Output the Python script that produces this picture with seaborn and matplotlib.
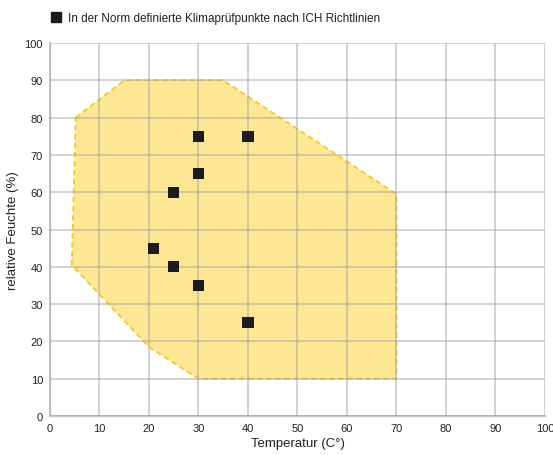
import pandas as pd
import seaborn as sns
import matplotlib.pyplot as plt
from matplotlib.lines import Line2D

# climate test points (ICH)
temp = [30, 40, 30, 25, 21, 25, 30, 40]
humidity = [75, 75, 65, 60, 45, 40, 35, 25]

# operating range polygon
area_temp = [5.2, 15, 35, 70, 70, 30, 20, 4.4]
area_hum = [80, 90, 90, 59.5, 10, 10, 18.5, 40.5]

ticks = list(range(0, 101, 10))

df = pd.DataFrame({'Temperatur': temp, 'Feuchte': humidity})

sns.set_theme(style="white")
plt.rcParams['font.family'] = ['Liberation Sans', 'DejaVu Sans']

fig = plt.figure(figsize=(5.53, 4.56), dpi=100)
ax = fig.add_axes([0.0904, 0.0855, 0.895, 0.818])

ax.fill(area_temp, area_hum, facecolor='#fde793', edgecolor='#f7c81e',
        linestyle=(0, (3, 2)), linewidth=1.3, zorder=1)

sns.scatterplot(data=df, x='Temperatur', y='Feuchte', marker='s', s=64,
                color='#1b1a1c', edgecolor='none', ax=ax, zorder=3)

ax.set_xlim(0, 100)
ax.set_ylim(0, 100)
ax.set_xticks(ticks)
ax.set_yticks(ticks)
ax.grid(True, color='#a0a0a0', linewidth=1.1, alpha=0.6, zorder=2)
ax.set_axisbelow(False)
for s in ['top', 'right']:
    ax.spines[s].set_visible(False)
for s in ['left', 'bottom']:
    ax.spines[s].set_color('#c4c4c4')
    ax.spines[s].set_linewidth(1.5)
ax.tick_params(axis='both', length=3, color='#c4c4c4', labelsize=8,
               labelcolor='#222222', pad=2)

ax.set_xlabel('Temperatur (C°)', fontsize=9.5, color='#222222', labelpad=3)
ax.set_ylabel('relative Feuchte (%)', fontsize=9.5, color='#222222', labelpad=4)

handle = Line2D([], [], marker='s', linestyle='none', color='#1b1a1c',
                markersize=7)
fig.legend([handle], ['In der Norm definierte Klimaprüfpunkte nach ICH Richtlinien'],
           loc='upper left', bbox_to_anchor=(0.072, 0.995), frameon=False,
           fontsize=8.5, handletextpad=0.5, handlelength=1.0, labelcolor='#222222')

fig.savefig('out.png', dpi=100)
